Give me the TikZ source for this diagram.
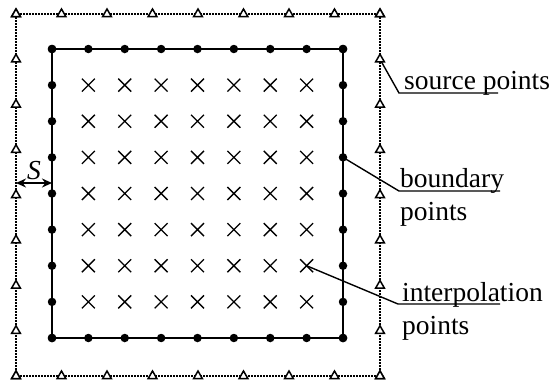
\documentclass[tikz,border=0pt]{standalone}
\usepackage{fontspec}
\setmainfont{Liberation Serif}
\usetikzlibrary{arrows.meta,shapes.geometric,shapes.misc}
\tikzset{
  domainline/.style={line width=2.2pt},
  sourceline/.style={line width=2.8pt, dash pattern=on 2pt off 1pt},
  leader/.style={line width=1.4pt},
  bpt/.style={circle, fill=black, inner sep=0pt, minimum size=8.5pt},
  spt/.style={regular polygon, regular polygon sides=3, draw, fill=white,
              line width=1.5pt, inner sep=0pt, minimum size=10pt},
  ipt/.style={cross out, draw, line width=1.4pt, inner sep=0pt, minimum size=11.5pt},
  lbl/.style={anchor=base west, inner sep=0pt, font=\fontsize{27.5}{33}\selectfont},
}
\begin{document}
\begin{tikzpicture}[x=1pt,y=-1pt]
\path[use as bounding box] (0,0) rectangle (552,381);

% outer (source) boundary and the domain boundary
\draw[sourceline] (16,14) rectangle (380,376);
\draw[domainline] (52,49) rectangle (343,338);

% point positions
\foreach \k in {0,...,8} {
  \coordinate (st-\k) at ({16+45.5*\k},14);
  \coordinate (sb-\k) at ({16+45.5*\k},376);
  \coordinate (sl-\k) at (16,{14+45.25*\k});
  \coordinate (sr-\k) at (380,{14+45.25*\k});
  \coordinate (bt-\k) at ({52+36.375*\k},49);
  \coordinate (bb-\k) at ({52+36.375*\k},338);
  \coordinate (bl-\k) at (52,{49+36.125*\k});
  \coordinate (br-\k) at (343,{49+36.125*\k});
}
\foreach \i in {1,...,7} \foreach \j in {1,...,7}
  \coordinate (x-\i-\j) at ({52+36.375*\i},{49+36.125*\j});

% label anchors
\coordinate (us1) at (399,93);   \coordinate (us2) at (498,93);
\coordinate (ub1) at (399,191);  \coordinate (ub2) at (500,191);
\coordinate (ui1) at (398,304);  \coordinate (ui2) at (500,304);

% leader lines
\draw[leader] (sr-1) -- (us1) -- (us2);
\draw[leader] (br-3) -- (ub1) -- (ub2);
\draw[leader] (x-7-6) -- (ui1) -- (ui2);

% markers
\foreach \k in {0,...,8} {
  \node[spt] (S-t\k) at (st-\k) {};
  \node[spt] (S-b\k) at (sb-\k) {};
  \node[spt] (S-l\k) at (sl-\k) {};
  \node[spt] (S-r\k) at (sr-\k) {};
  \node[bpt] (B-t\k) at (bt-\k) {};
  \node[bpt] (B-b\k) at (bb-\k) {};
  \node[bpt] (B-l\k) at (bl-\k) {};
  \node[bpt] (B-r\k) at (br-\k) {};
}
\foreach \i in {1,...,7} \foreach \j in {1,...,7}
  \node[ipt] (X-\i-\j) at (x-\i-\j) {};

% labels
\node[lbl] (tsrc) at (404,89) {source points};
\node[lbl] (tbnd1) at (400,187) {boundary};
\node[lbl] (tbnd2) at (400,220) {points};
\node[lbl] (tint1) at (402,301) {interpolation};
\node[lbl] (tint2) at (402,334) {points};

% distance S between the two boundaries
\coordinate (dL) at (16,183);
\coordinate (dR) at (52,183);
\draw[line width=1.5pt, {Stealth[length=10pt,width=9pt]}-{Stealth[length=10pt,width=9pt]}] (dL) -- (dR);
\node[anchor=base, inner sep=0pt, font=\fontsize{27.5}{33}\selectfont\itshape] (tS) at (34,179) {S};
\end{tikzpicture}
\end{document}
